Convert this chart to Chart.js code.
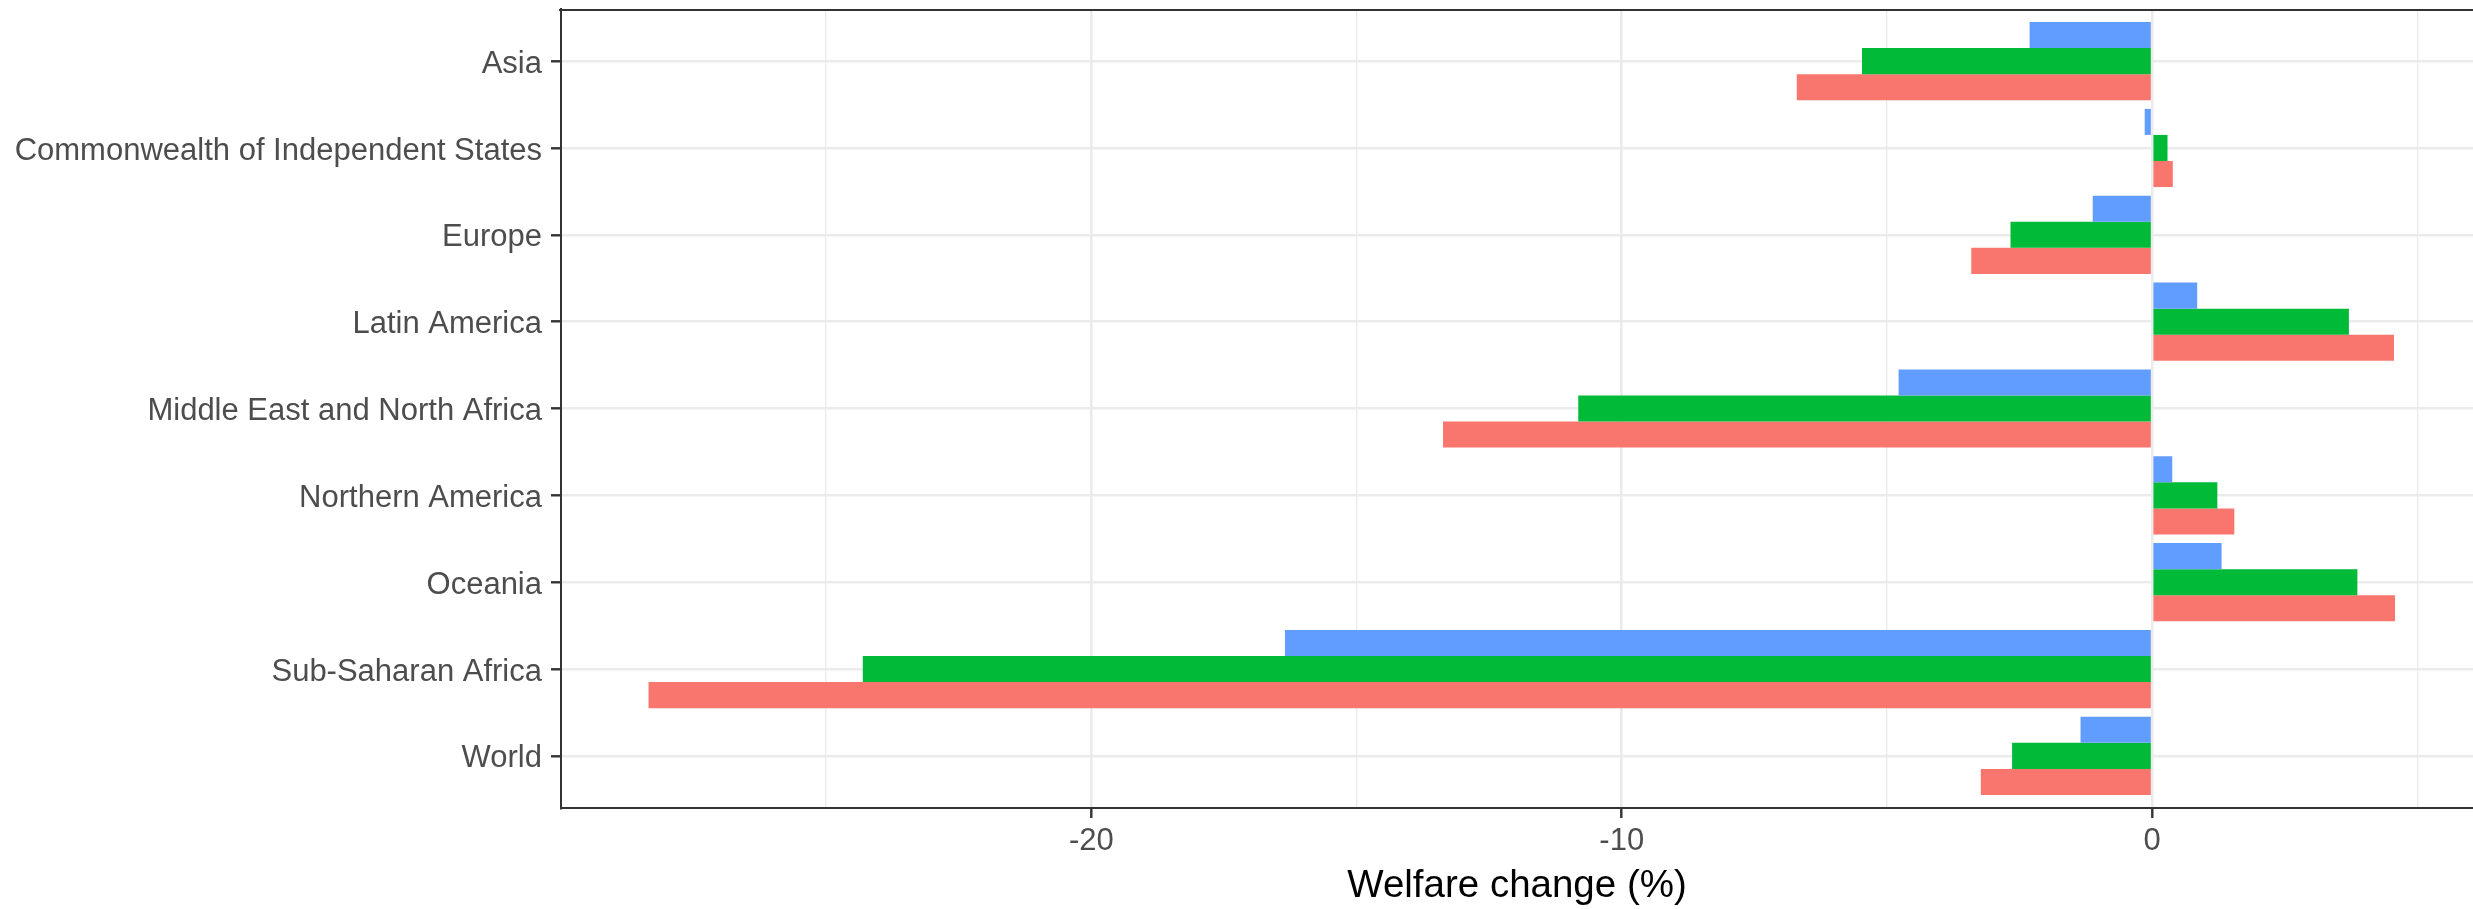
<!DOCTYPE html>
<html>
<head>
<meta charset="utf-8">
<script src="https://cdn.jsdelivr.net/npm/chart.js@4"></script>
<style>
    html, body { margin: 0; padding: 0; background: #ffffff; }
    #wrap { width: 2473px; height: 909px; }
</style>
</head>
<body>
<div id="wrap"><canvas id="chart"></canvas></div>
<script>
// regio's, van boven naar beneden
const regions = [
    "Asia",
    "Commonwealth of Independent States",
    "Europe",
    "Latin America",
    "Middle East and North Africa",
    "Northern America",
    "Oceania",
    "Sub-Saharan Africa",
    "World"
];

// welvaartsverandering (%) per scenario
const series1 = [-6.70, 0.39, -3.41, 4.56, -13.37, 1.55, 4.58, -28.35, -3.23];  // rood (onderste balk)
const series2 = [-5.47, 0.29, -2.67, 3.71, -10.82, 1.23, 3.87, -24.31, -2.64];  // groen
const series3 = [-2.31, -0.14, -1.12, 0.85, -4.78, 0.38, 1.31, -16.35, -1.35];  // blauw (bovenste balk)

const xTicks = [-25, -20, -15, -10, -5, 0, 5];
const xLabels = [-20, -10, 0];

const toPoints = function (values) {
    return values.map((v, i) => ({ x: v, y: i }));
};

const topBorder = {
    id: "topBorder",
    afterDraw(chart) {
        const a = chart.chartArea;
        const ctx = chart.ctx;
        ctx.save();
        ctx.strokeStyle = "#333333";
        ctx.lineWidth = 2;
        ctx.beginPath();
        ctx.moveTo(a.left - 2, a.top + 1);
        ctx.lineTo(a.right, a.top + 1);
        ctx.stroke();
        ctx.restore();
    }
};

const isMajor = (v) => xLabels.includes(v);

new Chart(document.getElementById("chart"), {
    type: "bar",
    data: {
        datasets: [
            { label: "series3", data: toPoints(series3), backgroundColor: "#619CFF" },
            { label: "series2", data: toPoints(series2), backgroundColor: "#00BA38" },
            { label: "series1", data: toPoints(series1), backgroundColor: "#F8766D" }
        ]
    },
    options: {
        indexAxis: "y",
        responsive: true,
        maintainAspectRatio: false,
        animation: false,
        events: [],
        layout: { padding: { top: 9, left: 0, right: 0, bottom: 0 } },
        datasets: {
            bar: { categoryPercentage: 0.9, barPercentage: 1.0, borderWidth: 0 }
        },
        plugins: {
            legend: { display: false },
            tooltip: { enabled: false }
        },
        scales: {
            x: {
                type: "linear",
                min: -30,
                max: 6.05,
                offset: false,
                afterBuildTicks: (axis) => {
                    axis.ticks = xTicks.map(v => ({ value: v }));
                },
                afterFit: (scale) => {
                    scale.height = 101;
                    scale.paddingLeft = 0;
                    scale.paddingRight = 0;
                },
                ticks: {
                    autoSkip: false,
                    maxRotation: 0,
                    padding: 5,
                    color: "#4D4D4D",
                    font: { family: "Liberation Sans", size: 31 },
                    callback: (v) => (isMajor(v) ? String(v) : "")
                },
                grid: {
                    offset: false,
                    color: "#EBEBEB",
                    lineWidth: (ctx) => (isMajor(ctx.tick.value) ? 2.6 : 1.4),
                    drawTicks: true,
                    tickLength: 10,
                    tickColor: (ctx) => (isMajor(ctx.tick.value) ? "#333333" : "rgba(0,0,0,0)"),
                    tickWidth: 2.4
                },
                border: { display: true, color: "#333333", width: 2 },
                title: {
                    display: true,
                    text: "Welfare change (%)",
                    color: "#000000",
                    font: { family: "Liberation Sans", size: 38.5 },
                    padding: { top: 0, bottom: 0 }
                }
            },
            y: {
                type: "linear",
                reverse: true,
                min: -0.6,
                max: 8.6,
                offset: false,
                afterBuildTicks: (axis) => {
                    axis.ticks = regions.map((r, i) => ({ value: i }));
                },
                afterFit: (scale) => {
                    scale.width = 561;
                    scale.paddingTop = 0;
                    scale.paddingBottom = 0;
                },
                ticks: {
                    autoSkip: false,
                    padding: 9,
                    labelOffset: 3,
                    color: "#4D4D4D",
                    font: { family: "Liberation Sans", size: 31 },
                    callback: (v) => regions[v] ?? ""
                },
                grid: {
                    offset: false,
                    color: "#EBEBEB",
                    lineWidth: 2.6,
                    drawTicks: true,
                    tickLength: 10,
                    tickColor: "#333333",
                    tickWidth: 2.4
                },
                border: { display: true, color: "#333333", width: 2 }
            }
        }
    },
    plugins: [topBorder]
});
</script>
</body>
</html>
